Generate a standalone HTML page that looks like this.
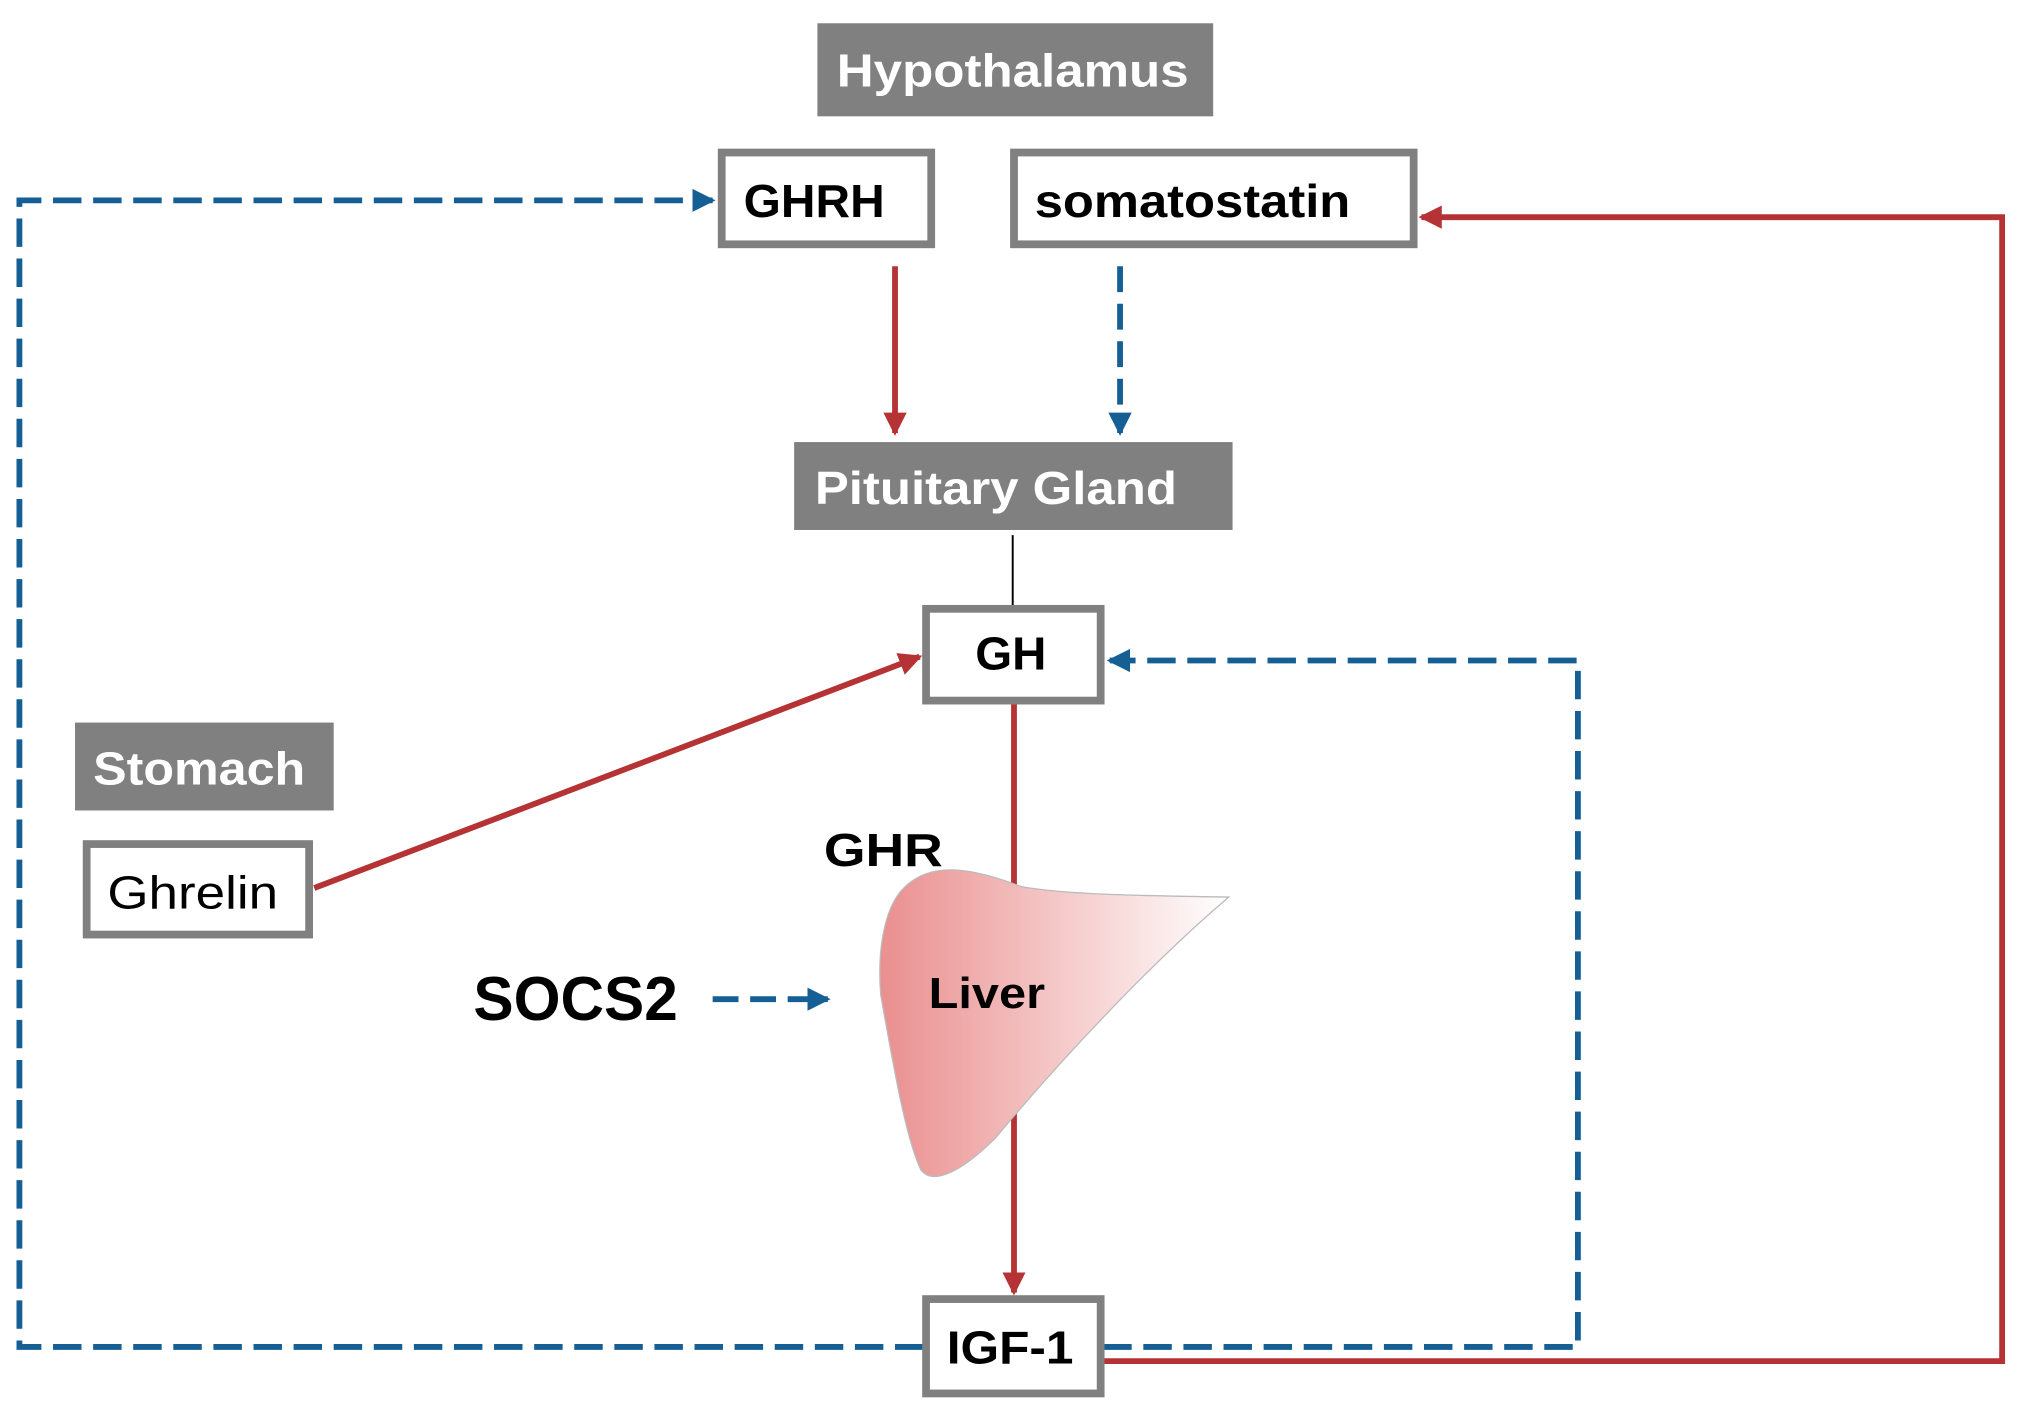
<!DOCTYPE html>
<html><head><meta charset="utf-8"><style>html,body{margin:0;padding:0;background:#fff}svg{display:block}</style></head>
<body>
<svg width="2028" height="1418" viewBox="0 0 1568 1097" preserveAspectRatio="none" xmlns="http://www.w3.org/2000/svg" font-family="'Liberation Sans Narrow','Liberation Sans',sans-serif" font-weight="bold">
<defs>
<linearGradient id="lg" x1="0" x2="1" y1="0" y2="0"><stop offset="0" stop-color="#ea8f8f"/><stop offset="1" stop-color="#ffffff"/></linearGradient>
<marker id="ar" markerWidth="4" markerHeight="4" refX="3.5" refY="2" orient="auto" markerUnits="strokeWidth"><path d="M0,0 L4,2 L0,4 Z" fill="#b53334"/></marker>
<marker id="ab" markerWidth="4" markerHeight="4" refX="3.5" refY="2" orient="auto" markerUnits="strokeWidth"><path d="M0,0 L4,2 L0,4 Z" fill="#165f94"/></marker>
</defs>
<g fill="none" stroke-width="4.5">
<line x1="692" y1="206" x2="692" y2="335" stroke="#b53334" marker-end="url(#ar)"/>
<line x1="866" y1="206" x2="866" y2="335" stroke="#165f94" stroke-dasharray="20 9" marker-end="url(#ab)"/>
<line x1="784" y1="544" x2="784" y2="1000" stroke="#b53334" marker-end="url(#ar)"/>
<line x1="243" y1="687" x2="711" y2="508" stroke="#b53334" marker-end="url(#ar)"/>
<line x1="551" y1="773" x2="640" y2="773" stroke="#165f94" stroke-dasharray="20 9" marker-end="url(#ab)"/>
<polyline points="714,1042 15,1042 15,155 551,155" stroke="#165f94" stroke-dasharray="22 9" marker-end="url(#ab)"/>
<polyline points="853,1042 1220,1042 1220,511 858,511" stroke="#165f94" stroke-dasharray="22 9" marker-end="url(#ab)"/>
<polyline points="853,1053 1548,1053 1548,168 1099,168" stroke="#b53334" marker-end="url(#ar)"/>
</g>
<line x1="783" y1="414" x2="783" y2="469" stroke="#000" stroke-width="1.5"/>
<path d="M696,690 C718,664 752,672 790,686 C830,693 900,693 950,694 C890,745 820,820 770,880 C745,905 722,918 712,905 C700,880 690,820 681,770 C678,735 684,705 696,690 Z" fill="url(#lg)" stroke="#bbb" stroke-width="1"/>
<rect x="632" y="18" width="306" height="72" fill="#808080"/>
<rect x="614" y="342" width="339" height="68" fill="#808080"/>
<rect x="58" y="559" width="200" height="68" fill="#808080"/>
<g fill="#fff" stroke="#808080" stroke-width="6">
<rect x="558" y="118" width="162" height="71"/>
<rect x="784" y="118" width="309" height="71"/>
<rect x="716" y="471" width="135" height="71"/>
<rect x="67" y="653" width="172" height="70"/>
<rect x="716" y="1005" width="135" height="73"/>
</g>
<g font-size="36">
<text x="647" y="67" fill="#fff" textLength="272" lengthAdjust="spacingAndGlyphs">Hypothalamus</text>
<text x="630" y="390" fill="#fff" textLength="280" lengthAdjust="spacingAndGlyphs">Pituitary Gland</text>
<text x="72" y="607" fill="#fff" textLength="164" lengthAdjust="spacingAndGlyphs">Stomach</text>
<text x="575" y="168" fill="#000" textLength="109" lengthAdjust="spacingAndGlyphs">GHRH</text>
<text x="800" y="168" fill="#000" textLength="244" lengthAdjust="spacingAndGlyphs">somatostatin</text>
<text x="754" y="518" fill="#000" textLength="55" lengthAdjust="spacingAndGlyphs">GH</text>
<text x="83" y="703" fill="#000" font-weight="normal" textLength="132" lengthAdjust="spacingAndGlyphs">Ghrelin</text>
<text x="637" y="670" fill="#000" textLength="92" lengthAdjust="spacingAndGlyphs">GHR</text>
<text x="718" y="780" fill="#000" font-size="34" textLength="90" lengthAdjust="spacingAndGlyphs">Liver</text>
<text x="732" y="1055" fill="#000" textLength="98" lengthAdjust="spacingAndGlyphs">IGF-1</text>
<text x="366" y="789" fill="#000" font-size="48" textLength="158" lengthAdjust="spacingAndGlyphs">SOCS2</text>
</g>
</svg>
</body></html>
